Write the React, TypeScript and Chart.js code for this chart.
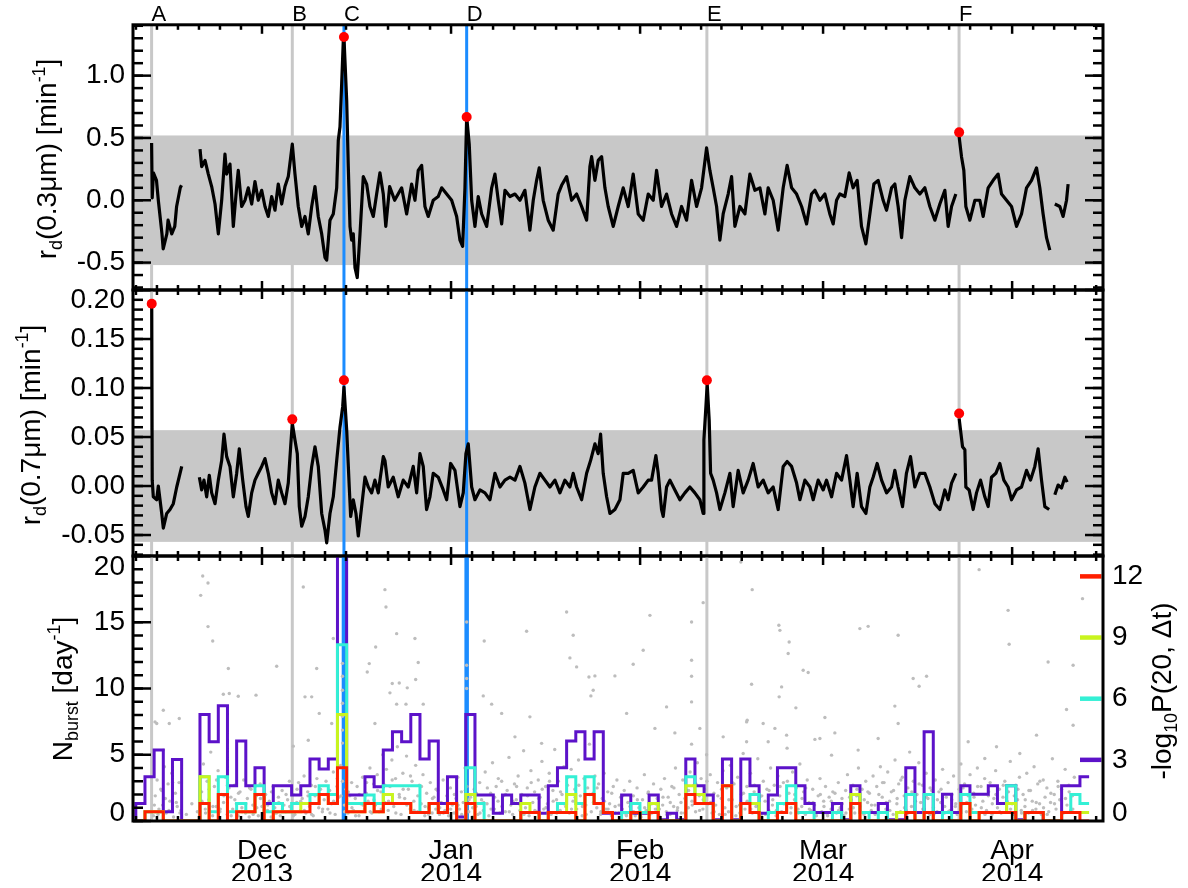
import React, { useEffect, useRef } from 'react';
import { Chart, registerables } from 'chart.js';

Chart.register(...registerables);

const FONT = "'Liberation Sans', Arial, Helvetica, sans-serif";
const BLACK = '#000000';
const GRAY_LINE = '#c8c8c8';
const BAND_COLOR = '#c8c8c8';
const BLUE = '#1b8cff';
const DOT_COLOR = '#bdbdbd';
const PEAK_COLOR = '#ff0000';
const C_PURPLE = '#5c12c9';
const C_CYAN = '#34f0d5';
const C_YELLOW = '#c9f41e';
const C_RED = '#ff1f00';

// x axis: days since 2013-12-01 (axis positions as on the original IDL plot)
const X_MIN = -21.15;
const X_MAX = 137.9;
const MONTH_TICKS = [0, 31, 62, 92, 123];
const MONTH_LABELS = [['Dec', '2013'], ['Jan', '2014'], ['Feb', '2014'], ['Mar', '2014'], ['Apr', '2014']];

const EVENT_LABELS = ['A', 'B', 'C', 'D', 'E', 'F'];
const EVENT_DAYS = [-18.1, 4.97, 13.44, 33.56, 72.95, 114.3];
const EVENT_BLUE = [false, false, true, true, false, false];

// ---------- panel 1 : r_d(0.3 um) ----------
const P1_MIN = -0.72;
const P1_MAX = 1.408;
const P1_TICKS = [-0.5, 0, 0.5, 1.0];
const P1_BAND = 0.52;
const PEAK03_DAYS = [13.44, 33.56, 114.31];
const PEAK03_VALS = [1.31, 0.668, 0.545];
const RD03: [number, number | null][] = [
  [-18.1, 0.46], [-18.0, 0.02], [-17.8, 0.22], [-17.3, 0.16], [-17.0, 0.0], [-16.4, -0.27], [-16.2, -0.39], [-15.6, -0.27], [-15.4, -0.16], [-14.8, -0.27], [-14.3, -0.21], [-14.0, -0.05], [-13.4, 0.1], [-13.2, 0.12],
  [-11.5, null],
  [-10.16, 0.41], [-9.89, 0.27], [-9.34, 0.32], [-8.8, 0.21], [-8.25, 0.11], [-7.7, -0.03], [-7.16, -0.27], [-6.61, 0], [-6.07, 0.37], [-5.79, 0.21], [-5.25, 0.29], [-4.7, -0.21], [-4.15, 0.11], [-3.89, 0.24], [-3.33, -0.05], [-2.79, 0], [-2.25, 0.1], [-1.69, -0.03], [-1.15, 0.15], [-0.61, 0], [-0.05, 0.08], [0.49, -0.05], [1.03, -0.13], [1.59, 0.03], [2.13, -0.08], [2.67, 0.13], [3.23, -0.03], [3.77, 0.11], [4.31, 0.19], [4.97, 0.45], [5.41, 0.21], [5.95, -0.05], [6.51, -0.21], [7.05, -0.13], [7.59, -0.27], [8.15, -0.05], [8.69, 0.11], [9.23, -0.13], [9.79, -0.27], [10.33, -0.46], [10.61, -0.48], [11.15, -0.16], [11.69, -0.11], [12.25, 0.1], [12.51, 0.48], [12.79, 0.59], [13.07, 0.94], [13.33, 1.28], [13.44, 1.31], [13.89, 0.8], [14.15, 0.27], [14.43, -0.21], [14.7, -0.32], [14.97, -0.27], [15.25, -0.54], [15.62, -0.62], [16.07, -0.27], [16.61, 0.19], [17.16, 0.13], [17.7, -0.05], [18.25, -0.13], [18.8, 0.05], [19.34, 0.22], [19.89, 0.05], [20.3, -0.21], [20.93, 0.11], [21.75, 0], [22.9, 0.1], [23.72, -0.11], [24.54, 0.13], [25.08, 0], [25.62, 0.24], [26.18, 0.28], [26.72, -0.05], [27.26, -0.13], [28.08, 0], [28.9, 0.03], [29.46, 0.1], [30.28, 0.05], [31.1, 0], [31.92, -0.13], [32.46, -0.32], [32.9, -0.37], [33.28, 0.1], [33.56, 0.67], [33.98, 0.45], [34.38, 0], [34.92, -0.21], [35.46, 0.03], [36.02, -0.11], [36.84, -0.21], [37.66, 0.1], [38.2, 0.21], [38.74, 0], [39.3, -0.19], [39.84, 0.08], [40.66, 0.03], [41.48, 0.05], [42.3, 0], [43.11, 0.08], [43.93, -0.24], [44.48, 0], [45.03, 0.16], [45.46, 0.26], [46.11, 0], [46.93, -0.16], [47.75, -0.24], [48.57, 0.05], [49.13, 0.12], [49.95, 0.19], [50.77, 0], [51.59, 0.05], [52.41, -0.05], [53.23, -0.16], [53.77, 0.27], [54.05, 0.35], [54.59, 0.16], [55.13, 0.32], [55.69, 0.35], [56.23, 0.1], [56.77, -0.05], [57.59, -0.21], [58.41, -0.05], [59.23, 0.1], [60.05, -0.05], [60.87, 0.21], [61.69, -0.11], [62.51, -0.16], [63.33, 0.05], [64.15, 0], [64.7, 0.24], [65.52, -0.05], [66.34, 0.05], [67.16, -0.11], [67.98, -0.21], [68.8, -0.05], [69.62, -0.16], [70.44, 0.16], [71.26, -0.05], [72.08, 0.1], [72.9, 0.42], [73.44, 0.24], [73.98, 0.1], [74.54, -0.05], [75.08, -0.32], [75.62, -0.11], [76.44, 0.05], [77.0, 0.19], [77.54, -0.21], [78.36, -0.05], [79.18, -0.11], [80.0, 0.21], [80.82, 0.08], [81.64, 0.1], [82.46, -0.11], [83.0, 0.1], [83.82, 0], [84.64, -0.24], [85.46, 0.1], [86.11, 0.28], [86.84, 0.1], [87.66, 0.05], [88.48, -0.05], [89.3, -0.19], [90.11, 0.05], [90.66, 0.08], [91.48, 0], [92.3, 0.05], [93.11, -0.11], [93.66, -0.19], [94.21, 0], [94.75, 0.05], [95.57, 0.03], [96.28, 0.22], [96.93, 0.1], [97.59, 0.16], [98.3, -0.21], [99.02, -0.35], [99.67, -0.11], [100.33, 0.13], [101.03, 0.16], [101.85, 0], [102.41, -0.08], [103.23, 0.1], [103.77, 0.13], [104.31, -0.05], [104.87, -0.3], [105.41, 0], [106.23, 0.19], [107.05, 0.1], [107.87, 0.05], [108.69, 0.1], [109.51, -0.05], [110.33, -0.16], [111.15, -0.03], [111.97, 0.08], [112.51, -0.21], [113.07, -0.05], [113.77, 0.05],
  [114.0, null],
  [114.31, 0.51], [114.7, 0.35], [115.08, 0.24], [115.41, -0.05], [116.07, -0.16], [116.89, 0], [117.7, 0], [118.25, -0.13], [119.07, 0.1], [119.89, 0.16], [120.7, 0.21], [121.26, 0.05], [122.08, 0], [122.9, -0.05], [123.72, -0.21], [124.54, -0.11], [125.36, 0.1], [126.18, 0.16], [127.0, 0.26], [127.54, 0.1], [128.08, -0.11], [128.64, -0.3], [129.18, -0.4],
  [129.6, null],
  [130.0, -0.03], [130.82, -0.05], [131.36, -0.13], [131.92, 0], [132.18, 0.13],
];

// ---------- panel 2 : r_d(0.7 um) ----------
const P2_MIN = -0.0714;
const P2_MAX = 0.2;
const P2_TICKS = [-0.05, 0, 0.05, 0.1, 0.15, 0.2];
const P2_BAND = 0.057;
const PEAK07_DAYS = [-18.08, 4.97, 13.44, 72.95, 114.31];
const PEAK07_VALS = [0.186, 0.068, 0.108, 0.108, 0.074];
const RD07: [number, number | null][] = [
  [-18.08, 0.183], [-18.0, 0.006], [-17.82, -0.011], [-17.26, -0.014], [-17.0, 0], [-16.44, -0.028], [-16.18, -0.043], [-15.62, -0.028], [-15.08, -0.024], [-14.54, -0.018], [-13.98, -0.001], [-13.16, 0.02],
  [-11.5, null],
  [-10.27, 0.009], [-9.89, -0.004], [-9.51, 0.006], [-9.07, -0.011], [-8.64, 0.011], [-8.25, -0.007], [-7.7, -0.018], [-7.16, 0.006], [-6.61, 0.026], [-6.23, 0.053], [-5.79, 0.03], [-5.25, 0.02], [-4.7, -0.011], [-4.15, 0.013], [-3.72, 0.038], [-3.16, 0.006], [-2.62, -0.021], [-2.25, -0.031], [-1.69, -0.007], [-1.15, 0.006], [-0.61, 0.013], [-0.05, 0.02], [0.49, 0.028], [1.03, 0.013], [1.59, -0.007], [2.13, -0.018], [2.67, 0.006], [3.23, -0.007], [3.77, -0.018], [4.31, 0.003], [4.7, 0.04], [4.97, 0.064], [5.41, 0.047], [5.79, 0.033], [6.12, -0.021], [6.51, -0.041], [7.05, -0.031], [7.59, -0.011], [8.15, 0.02], [8.69, 0.04], [9.23, 0.02], [9.79, -0.028], [10.33, -0.045], [10.61, -0.058], [11.15, -0.028], [11.69, -0.011], [12.25, 0.026], [12.79, 0.06], [13.23, 0.081], [13.44, 0.101], [13.89, 0.057], [14.31, -0.001], [14.54, -0.031], [14.97, -0.014], [15.41, -0.028], [15.79, -0.051], [16.34, -0.021], [16.89, 0.009], [17.43, -0.001], [17.98, -0.007], [18.52, 0.006], [19.07, -0.007], [19.34, 0.006], [19.89, 0.03], [20.16, 0.026], [20.7, -0.001], [21.52, 0.009], [22.34, -0.011], [23.16, 0.006], [23.98, -0.001], [24.8, 0.02], [25.36, -0.007], [25.9, 0.033], [26.44, 0.02], [26.99, -0.024], [27.54, -0.011], [28.08, 0.013], [28.9, 0.009], [29.72, -0.004], [30.28, -0.014], [30.93, 0.023], [31.64, 0.016], [32.46, -0.021], [33.0, -0.007], [33.44, 0.033], [33.82, 0.043], [34.38, -0.001], [34.92, -0.014], [35.74, -0.004], [36.56, -0.007], [37.38, -0.014], [38.2, 0.013], [39.02, -0.001], [39.84, 0.006], [40.66, 0.009], [41.48, 0.006], [42.3, 0.02], [43.11, 0.003], [43.93, -0.024], [44.75, -0.001], [45.57, 0.013], [46.39, 0.006], [47.21, -0.001], [48.03, 0.006], [48.85, -0.007], [49.67, 0.006], [50.49, -0.001], [51.03, 0.013], [51.59, -0.001], [52.41, -0.014], [53.23, 0.013], [53.88, 0.026], [54.59, 0.043], [55.13, 0.033], [55.52, 0.053], [55.95, 0.013], [56.51, -0.011], [57.05, -0.028], [57.87, -0.024], [58.69, -0.014], [59.23, 0.013], [60.05, 0.013], [60.87, 0.016], [61.69, -0.007], [62.51, -0.001], [63.33, 0.006], [63.88, 0.006], [64.59, 0.031], [64.97, 0.013], [65.52, -0.024], [65.79, -0.031], [66.34, -0.001], [66.89, 0.006], [67.7, -0.004], [68.52, -0.014], [69.34, -0.007], [70.16, -0.001], [70.98, -0.007], [71.8, -0.014], [72.34, -0.028], [72.46, 0.047], [72.79, 0.081], [73.0, 0.104], [73.33, 0.067], [73.56, 0.013], [73.98, 0.006], [74.54, -0.007], [75.08, -0.024], [75.9, -0.007], [76.72, 0.013], [77.26, -0.021], [78.08, 0.016], [78.9, -0.007], [79.72, 0.006], [80.54, 0.023], [81.36, -0.001], [82.18, 0.006], [83.0, -0.007], [83.82, -0.001], [84.64, -0.024], [85.46, 0.02], [86.11, 0.025], [86.84, 0.02], [87.66, 0.003], [88.2, -0.014], [89.02, 0.006], [89.84, -0.001], [90.38, -0.014], [91.2, 0.006], [92.02, -0.004], [92.57, 0.006], [93.39, -0.011], [94.21, 0.013], [95.03, 0.006], [95.85, 0.031], [96.39, 0.006], [96.93, -0.021], [97.59, 0.013], [98.3, -0.021], [99.02, -0.028], [99.67, -0.001], [100.21, 0.009], [100.87, 0.023], [101.59, 0.006], [102.41, -0.007], [103.23, -0.001], [103.77, 0.016], [104.31, -0.001], [105.03, -0.021], [105.67, 0.013], [106.34, 0.03], [107.05, -0.001], [107.87, 0.013], [108.69, 0.013], [109.51, -0.001], [110.33, -0.018], [111.15, -0.024], [111.97, -0.004], [112.51, -0.014], [113.07, 0.003], [113.77, 0.013],
  [114.0, null],
  [114.31, 0.069], [114.87, 0.04], [115.25, 0.037], [115.41, -0.001], [115.95, -0.004], [116.61, -0.024], [117.16, -0.007], [117.82, 0.006], [118.52, -0.011], [119.07, -0.021], [119.62, 0.009], [120.33, 0.013], [120.98, 0.023], [121.64, 0.006], [122.34, -0.001], [122.9, -0.014], [123.72, -0.004], [124.54, -0.001], [125.36, 0.016], [126.02, 0.006], [126.72, 0.02], [127.26, 0.038], [127.82, 0.006], [128.36, -0.021], [129.07, -0.024],
  [129.6, null],
  [130.0, -0.009], [130.54, 0.001], [131.1, -0.002], [131.64, 0.009], [132.02, 0.004],
];

// ---------- panel 3 : N_burst histograms ----------
const P3_MIN = 0;
const P3_MAX = 20;
const P3_TICKS = [0, 5, 10, 15, 20];
const PR_MIN = 0;
const PR_MAX = 13;
const PR_TICKS = [0, 3, 6, 9, 12];
const BIN_START = -20.69;
const BIN_WIDTH = 1.503;
const N_PURPLE = [
  1.33, 3.34, 5.35, 0.7, 4.65, 0, 0, 8.04, 5.98, 8.69,
  2.66, 6.03, 2.66, 4.02, 1.33, 2.66, 2.66, 1.96, 2.66, 4.67,
  3.92, 4.67, 24, 1.96, 1.96, 3.34, 2.59, 5.35, 6.73, 5.98,
  8.04, 4.67, 6.03, 1.33, 3.34, 0.3, 8.04, 1.96, 1.96, 0.58,
  1.96, 1.33, 1.96, 1.96, 0.58, 2.66, 4.02, 6.03, 6.73, 4.67,
  6.73, 0.58, 0.58, 1.96, 0.58, 0.58, 1.96, 0.1, 0.58, 0.1,
  4.67, 2.66, 1.96, 0.1, 4.67, 0.1, 4.67, 2.66, 0.58, 1.96,
  4.02, 4.02, 2.66, 1.33, 0.65, 0.65, 1.33, 0.1, 2.66, 0.65,
  0.65, 1.33, 0.1, 0.1, 4.02, 0.65, 6.73, 0.65, 2.01, 0.65,
  2.66, 2.01, 2.01, 2.66, 1.33, 2.66, 0.1, 0.65, 0.65, 0,
  0, 2.66, 2.66, 3.34,
];
const N_CYAN = [
  0, 0.7, 0.7, 0, 0, 0, 0, 3.34, 0.7, 3.34,
  0.7, 1.33, 0.7, 2.66, 0.7, 1.33, 0.7, 1.33, 1.33, 2.0,
  2.66, 2.0, 13.3, 1.33, 1.33, 1.96, 1.33, 2.66, 2.66, 2.66,
  2.66, 0.65, 1.33, 0.65, 1.33, 0, 4.02, 1.33, 0, 0,
  0, 0, 0.65, 0.65, 0, 0.65, 1.33, 3.34, 1.33, 3.34,
  1.33, 0.65, 0, 0.65, 1.33, 0.65, 1.33, 0, 0, 0,
  3.34, 2.0, 1.33, 0, 2.66, 0, 1.33, 2.0, 0, 0.65,
  1.33, 2.66, 0.65, 0.65, 0, 0, 0.65, 0, 2.0, 0.65,
  0, 0.65, 0, 0.65, 2.0, 0, 2.0, 0, 0.65, 0,
  2.0, 0.65, 0.65, 0.65, 0.65, 2.66, 0, 0.65, 0.65, 0,
  0, 0.65, 2.0, 1.33,
];
const N_YELLOW = [
  0, 0.7, 0.7, 0, 0, 0, 0, 3.34, 0, 2.0,
  0, 0.7, 0.7, 2.0, 0, 0.7, 0.7, 0.7, 1.33, 1.33,
  2.0, 1.33, 8.04, 0.7, 0.7, 1.33, 0.7, 2.0, 1.33, 1.33,
  0.65, 0.65, 1.33, 0.65, 1.33, 0, 2.0, 0, 0, 0,
  0, 0, 1.33, 0.65, 0, 0.65, 0.65, 2.0, 0, 2.0,
  1.33, 0.65, 0, 0, 0.65, 0, 1.33, 0, 0, 0,
  2.66, 2.0, 1.33, 0, 2.66, 0, 1.33, 1.33, 0, 0,
  0.65, 1.33, 0, 0, 0, 0, 0, 0, 2.0, 0,
  0, 0, 0, 0.65, 0.65, 0, 0.65, 0, 0, 0,
  1.33, 0, 0.65, 0.65, 0.65, 1.33, 0, 0.65, 0.65, 0,
  0, 0.65, 0.65, 0.65,
];
const N_RED = [
  0, 0.7, 0.7, 0, 0, 0, 0, 1.33, 0, 2.0,
  0, 0.7, 0.7, 2.0, 0, 0.7, 0.7, 0.7, 0.7, 1.33,
  2.0, 1.33, 4.02, 0.7, 0.7, 1.33, 0.7, 1.33, 1.33, 1.33,
  0.65, 0.65, 1.33, 0.65, 1.33, 0, 1.33, 0, 0, 0,
  0, 0, 0.65, 0.65, 0, 0.65, 0.65, 0.65, 0, 2.0,
  1.33, 0.65, 0, 0, 0.65, 0, 0.65, 0, 0, 0,
  2.0, 1.33, 1.33, 0, 2.66, 0, 1.33, 0.65, 0, 0,
  0.65, 1.33, 0, 0, 0, 0, 0, 0, 1.33, 0,
  0, 0, 0, 0, 0.65, 0, 0.65, 0, 0, 0,
  1.33, 0, 0.65, 0.65, 0.65, 0.65, 0, 0.65, 0.65, 0,
  0, 0.65, 0.65, 0,
];
const COLOR_BAR_VALUES = [3, 6, 9, 12];
const COLOR_BAR_COLORS = [C_PURPLE, C_CYAN, C_YELLOW, C_RED];

// individual bursts (gray dots): sparse upper dots
const DOTS_HIGH: [number, number][] = [
  [-9.72, 18.49], [-8.85, 17.96], [-10.05, 17.03], [-8.85, 14.67], [-8.08, 13.59], [-5.52, 11.51], [2.41, 11.68], [-0.98, 9.5], [-3.89, 9.42], [8.97, 11.51], [7.05, 9.37], [11.69, 13.77], [6.77, 17.66], [-16.18, 8.36], [-13.56, 7.74], [-17.26, 7.36], [-15.2, 7.36], [9.39, 8.12], [11.43, 7.36], [7.59, 6.1], [5.13, 5.65], [-17.54, 7.48], [-16.18, 5.35], [-6.34, 9.57], [-5.36, 9.62], [8.15, 9.37], [17.59, 11.88], [22.08, 14.14], [20.16, 17.46], [20.33, 16.15],
  [25.08, 13.77], [18.64, 13.13], [25.62, 11.96], [17.26, 11.25], [43.39, 14.32], [36.44, 13.59], [49.95, 15.77], [51.03, 14.02], [50.49, 12.31], [51.59, 11.63], [53.61, 10.87], [54.59, 10.95], [53.93, 9.44], [36.28, 9.44], [37.66, 8.82], [33.56, 15.02], [33.56, 11.76], [33.56, 10.75], [33.56, 10.0], [25.2, 10.68], [23.82, 10.05], [21.36, 10.38], [22.51, 10.42], [20.98, 9.67], [22.08, 8.82], [23.61, 8.82], [26.44, 8.82], [18.52, 7.36], [39.3, 8.12], [41.48, 6.35], [43.93, 7.86], [45.85, 5.86], [57.87, 10.95], [60.87, 11.83], [62.51, 12.89], [63.61, 15.52], [70.44, 15.02], [72.34, 16.48], [70.44, 12.13], [70.44, 10.93], [70.44, 8.99], [70.44, 5.8], [78.52, 19.54], [80.38, 17.46], [84.75, 14.77], [86.28, 12.64], [86.44, 13.51], [79.46, 7.48], [85.2, 10.12], [54.31, 9.87], [59.79, 8.12], [67.7, 6.65], [66.34, 8.61], [75.62, 6.35], [82.18, 7.36], [64.43, 6.99], [71.8, 6.99], [80.28, 10.32], [88.74, 11.38], [89.56, 11.21], [84.8, 9.37], [87.54, 8.54], [92.3, 7.81], [79.56, 7.61], [79.46, 5.98], [83.0, 5.98], [84.1, 6.99], [93.93, 6.65], [98.03, 14.52], [90.66, 6.16],
  [84.92, 14.39], [99.39, 14.69], [104.31, 14.02], [106.77, 10.75], [108.97, 10.93], [107.75, 10.17], [117.59, 18.97], [122.34, 15.9], [122.51, 13.34], [128.9, 12.0], [133.0, 11.76], [134.54, 16.78], [131.92, 8.42], [133.0, 7.23], [104.31, 7.36], [101.03, 6.23], [97.75, 5.35], [115.79, 5.98], [120.44, 5.6], [118.52, 4.72], [124.26, 5.1], [127.0, 6.48], [93.39, 4.97], [91.48, 6.23], [86.02, 6.48], [103.77, 8.67],
  [13.2, 11.9], [13.2, 10.93], [13.2, 9.87], [13.2, 8.89], [13.2, 7.91], [13.2, 6.86], [13.2, 5.88],
];
// individual bursts: dense lower cloud
const DOTS_LOW: [number, number][] = [
  [-17.8, 0.4], [-17.5, 1.9], [-17.2, 3.1], [-16.9, 0.9], [-16.6, 2.4], [-16.3, 1.2], [-16.0, 4.1], [-15.7, 0.6], [-15.4, 2.8], [-15.1, 1.5], [-14.8, 3.6], [-14.5, 0.3], [-14.2, 2.1], [-13.9, 1.1], [-13.6, 2.9], [-13.3, 0.8],
  [-12.4, 0.5], [-11.5, 1.3], [-10.6, 0.7],
  [-9.9, 2.2], [-9.6, 4.3], [-9.3, 0.9], [-9.0, 3.0], [-8.7, 1.6], [-8.4, 5.2], [-8.1, 0.4], [-7.8, 2.6], [-7.5, 1.1], [-7.2, 3.8], [-6.9, 0.7], [-6.6, 2.0], [-6.3, 1.4], [-6.0, 3.3], [-5.7, 0.5], [-5.4, 2.5], [-5.1, 1.8],
  [-4.8, 0.9], [-4.5, 2.7], [-4.2, 1.3], [-3.9, 0.4], [-3.6, 2.2], [-3.3, 1.0], [-3.0, 3.1], [-2.7, 0.6], [-2.4, 1.7], [-2.1, 0.3], [-1.8, 2.4], [-1.5, 1.2], [-1.2, 0.7], [-0.9, 1.9], [-0.6, 0.4], [-0.3, 2.8],
  [0.0, 1.1], [0.3, 0.5], [0.6, 2.0], [0.9, 0.8], [1.2, 1.5], [1.5, 0.3], [1.8, 2.6], [2.1, 1.0], [2.4, 0.6], [2.7, 1.8], [3.0, 0.4], [3.3, 2.3], [3.6, 1.2], [3.9, 0.7], [4.2, 1.6], [4.5, 3.0], [4.8, 0.9],
  [5.1, 2.0], [5.4, 0.5], [5.7, 1.4], [6.0, 2.9], [6.3, 0.8], [6.6, 1.7], [6.9, 3.4], [7.2, 0.6], [7.5, 2.2], [7.8, 1.1], [8.1, 2.7], [8.4, 0.4], [8.7, 1.9], [9.0, 3.2], [9.3, 1.0], [9.6, 2.4], [9.9, 0.7],
  [10.2, 1.6], [10.5, 3.0], [10.8, 0.9], [11.1, 2.3], [11.4, 1.3], [11.7, 3.7], [12.0, 0.5], [12.3, 2.6], [12.6, 1.8], [12.9, 4.2], [13.2, 3.0], [13.5, 1.2], [13.8, 2.4], [14.1, 0.6], [14.4, 1.9], [14.7, 2.9],
  [15.0, 0.8], [15.3, 1.7], [15.6, 2.6], [15.9, 0.4], [16.2, 1.3], [16.5, 3.3], [16.8, 0.9], [17.1, 2.1], [17.4, 1.5], [17.7, 4.0], [18.0, 0.6], [18.3, 2.8], [18.6, 1.2], [18.9, 3.5], [19.2, 0.7], [19.5, 2.2], [19.8, 5.0],
  [20.1, 1.4], [20.4, 3.9], [20.7, 0.8], [21.0, 2.6], [21.3, 4.6], [21.6, 1.1], [21.9, 3.2], [22.2, 5.6], [22.5, 2.0], [22.8, 0.5], [23.1, 3.6], [23.4, 1.7], [23.7, 4.9], [24.0, 2.4], [24.3, 0.9], [24.6, 3.0], [24.9, 1.5],
  [25.2, 4.2], [25.5, 0.7], [25.8, 2.7], [26.1, 1.3], [26.4, 3.5], [26.7, 0.4], [27.0, 2.1], [27.3, 1.0], [27.6, 2.9], [27.9, 0.6], [28.2, 1.8], [28.5, 0.9], [28.8, 2.3], [29.1, 0.5], [29.4, 1.4], [29.7, 3.1],
  [30.0, 0.8], [30.3, 1.9], [30.6, 0.4], [30.9, 2.5], [31.2, 1.2], [31.5, 0.6], [31.8, 1.7], [32.1, 3.3], [32.4, 0.9], [32.7, 2.2], [33.0, 1.4], [33.3, 4.0], [33.6, 2.6], [33.9, 0.7], [34.2, 1.8], [34.5, 0.3], [34.8, 2.4],
  [35.1, 1.1], [35.4, 0.5], [35.7, 2.9], [36.0, 1.6], [36.3, 0.8], [36.6, 3.7], [36.9, 1.3], [37.2, 0.4], [37.5, 2.1], [37.8, 4.4], [38.1, 0.9], [38.4, 2.6], [38.7, 1.5], [39.0, 0.6], [39.3, 3.0], [39.6, 1.9], [39.9, 0.7],
  [40.2, 2.3], [40.5, 4.8], [40.8, 1.2], [41.1, 0.5], [41.4, 2.8], [41.7, 1.6], [42.0, 3.4], [42.3, 0.8], [42.6, 2.0], [42.9, 5.3], [43.2, 1.0], [43.5, 2.5], [43.8, 0.4], [44.1, 3.8], [44.4, 1.4], [44.7, 2.2],
  [45.0, 0.7], [45.3, 3.1], [45.6, 1.8], [45.9, 4.5], [46.2, 0.9], [46.5, 2.6], [46.8, 1.3], [47.1, 3.6], [47.4, 0.5], [47.7, 2.3], [48.0, 5.4], [48.3, 1.6], [48.6, 3.0], [48.9, 0.8], [49.2, 2.0], [49.5, 4.1], [49.8, 1.1],
  [50.1, 2.7], [50.4, 0.6], [50.7, 3.9], [51.0, 1.5], [51.3, 2.4], [51.6, 0.9], [51.9, 4.6], [52.2, 1.9], [52.5, 0.4], [52.8, 3.2], [53.1, 1.2], [53.4, 2.5], [53.7, 5.8], [54.0, 0.7], [54.3, 2.1], [54.6, 3.4], [54.9, 1.0],
  [55.2, 2.8], [55.5, 0.5], [55.8, 1.7], [56.1, 3.6], [56.4, 0.9], [56.7, 2.2], [57.0, 1.3], [57.3, 0.4], [57.6, 2.6], [57.9, 1.1], [58.2, 3.1], [58.5, 0.6], [58.8, 1.8], [59.1, 0.9], [59.4, 2.3], [59.7, 0.5],
  [60.0, 1.4], [60.3, 3.0], [60.6, 0.7], [60.9, 1.9], [61.2, 0.4], [61.5, 2.5], [61.8, 1.0], [62.1, 0.6], [62.4, 1.6], [62.7, 3.5], [63.0, 0.8], [63.3, 2.1], [63.6, 0.5], [63.9, 1.3], [64.2, 2.8], [64.5, 0.9], [64.8, 1.7],
  [65.1, 0.4], [65.4, 2.4], [65.7, 1.2], [66.0, 3.2], [66.3, 0.7], [66.6, 1.8], [66.9, 0.5], [67.2, 2.6], [67.5, 1.1], [67.8, 4.0], [68.1, 0.8], [68.4, 2.0], [68.7, 1.4], [69.0, 3.1], [69.3, 0.6], [69.6, 2.3], [69.9, 1.0],
  [70.2, 3.7], [70.5, 1.5], [70.8, 2.7], [71.1, 0.7], [71.4, 4.4], [71.7, 1.9], [72.0, 3.2], [72.3, 0.9], [72.6, 2.4], [72.9, 5.0], [73.2, 1.3], [73.5, 3.5], [73.8, 0.6], [74.1, 2.1], [74.4, 1.2], [74.7, 2.9],
  [75.0, 0.5], [75.3, 1.7], [75.6, 3.8], [75.9, 1.0], [76.2, 2.5], [76.5, 0.7], [76.8, 4.2], [77.1, 1.6], [77.4, 2.8], [77.7, 0.4], [78.0, 3.3], [78.3, 1.2], [78.6, 2.0], [78.9, 5.1], [79.2, 0.9], [79.5, 2.6], [79.8, 1.4],
  [80.1, 3.6], [80.4, 0.6], [80.7, 2.2], [81.0, 1.1], [81.3, 4.7], [81.6, 1.8], [81.9, 0.5], [82.2, 3.0], [82.5, 1.5], [82.8, 2.4], [83.1, 0.8], [83.4, 4.0], [83.7, 1.2], [84.0, 2.7], [84.3, 0.4], [84.6, 3.4], [84.9, 1.9],
  [85.2, 0.7], [85.5, 2.9], [85.8, 1.3], [86.1, 5.5], [86.4, 2.1], [86.7, 0.6], [87.0, 3.7], [87.3, 1.6], [87.6, 2.5], [87.9, 0.9], [88.2, 4.3], [88.5, 1.1], [88.8, 2.2], [89.1, 0.5], [89.4, 3.1], [89.7, 1.4],
  [90.0, 0.8], [90.3, 2.4], [90.6, 1.2], [90.9, 0.4], [91.2, 1.9], [91.5, 3.2], [91.8, 0.7], [92.1, 1.5], [92.4, 2.6], [92.7, 0.5], [93.0, 1.8], [93.3, 0.9], [93.6, 2.2], [93.9, 1.3], [94.2, 0.6], [94.5, 2.9], [94.8, 1.0],
  [95.1, 1.7], [95.4, 0.4], [95.7, 2.3], [96.0, 3.5], [96.3, 0.9], [96.6, 1.6], [96.9, 2.7], [97.2, 0.6], [97.5, 1.9], [97.8, 4.0], [98.1, 1.1], [98.4, 2.4], [98.7, 0.5], [99.0, 3.0], [99.3, 1.4], [99.6, 2.1], [99.9, 0.8],
  [100.2, 3.4], [100.5, 1.2], [100.8, 2.6], [101.1, 0.6], [101.4, 4.1], [101.7, 1.8], [102.0, 2.9], [102.3, 0.9], [102.6, 3.7], [102.9, 1.5], [103.2, 2.2], [103.5, 0.5], [103.8, 4.6], [104.1, 1.3], [104.4, 2.8], [104.7, 0.7],
  [105.0, 3.3], [105.3, 1.9], [105.6, 0.8], [105.9, 2.5], [106.2, 5.2], [106.5, 1.1], [106.8, 3.0], [107.1, 0.6], [107.4, 2.0], [107.7, 4.4], [108.0, 1.4], [108.3, 2.7], [108.6, 0.9], [108.9, 3.6], [109.2, 1.7], [109.5, 0.5], [109.8, 2.3],
  [110.1, 1.0], [110.4, 3.1], [110.7, 0.7], [111.0, 2.2], [111.3, 1.4], [111.6, 3.9], [111.9, 0.6], [112.2, 1.8], [112.5, 2.9], [112.8, 0.8], [113.1, 1.6], [113.4, 3.4], [113.7, 1.1], [114.0, 0.5], [114.3, 2.4], [114.6, 4.3],
  [114.9, 1.3], [115.2, 2.8], [115.5, 0.7], [115.8, 1.9], [116.1, 3.5], [116.4, 0.9], [116.7, 2.1], [117.0, 1.2], [117.3, 4.0], [117.6, 0.6], [117.9, 2.6], [118.2, 1.5], [118.5, 3.2], [118.8, 0.8], [119.1, 1.9], [119.4, 2.9], [119.7, 0.5],
  [120.0, 1.7], [120.3, 3.8], [120.6, 1.0], [120.9, 2.4], [121.2, 0.6], [121.5, 1.8], [121.8, 3.0], [122.1, 0.9], [122.4, 2.2], [122.7, 4.5], [123.0, 1.3], [123.3, 0.5], [123.6, 2.7], [123.9, 1.6], [124.2, 3.3], [124.5, 0.8], [124.8, 2.0],
  [125.1, 1.1], [125.4, 3.6], [125.7, 0.6], [126.0, 2.3], [126.3, 1.5], [126.6, 4.1], [126.9, 0.9], [127.2, 2.8], [127.5, 1.3], [127.8, 0.5], [128.1, 3.1], [128.4, 1.8], [128.7, 2.5], [129.0, 0.7], [129.3, 1.4], [129.6, 4.7], [129.9, 2.0],
  [130.2, 0.9], [130.5, 3.0], [130.8, 1.6], [131.1, 2.4], [131.4, 0.6], [131.7, 3.9], [132.0, 1.2], [132.3, 2.7], [132.6, 0.8], [132.9, 1.9], [133.2, 3.3],
];
// second layer of the dense lower cloud
const DOTS_LOW2: [number, number][] = [
  [-17.65, 1.2], [-17.05, 0.5], [-16.45, 2.3], [-15.85, 1.7], [-15.25, 0.8], [-14.65, 2.9], [-14.05, 1.4], [-13.45, 0.6],
  [-9.85, 1.5], [-9.25, 0.6], [-8.65, 2.4], [-8.05, 1.1], [-7.45, 3.1], [-6.85, 0.9], [-6.25, 1.9], [-5.65, 2.7], [-5.05, 0.4], [-4.45, 1.6],
  [-3.85, 2.1], [-3.25, 0.7], [-2.65, 1.3], [-2.05, 2.5], [-1.45, 0.5], [-0.85, 1.0], [-0.25, 1.7], [0.35, 0.3], [0.95, 1.2], [1.55, 2.2],
  [2.15, 0.6], [2.75, 1.4], [3.35, 0.9], [3.95, 2.0], [4.55, 1.1], [5.15, 0.4], [5.75, 2.4], [6.35, 1.5], [6.95, 0.8], [7.55, 1.9],
  [8.15, 0.5], [8.75, 2.6], [9.35, 1.3], [9.95, 0.9], [10.55, 2.0], [11.15, 0.6], [11.75, 1.5], [12.35, 3.2], [12.95, 1.9], [13.55, 0.7],
  [14.15, 2.2], [14.75, 1.0], [15.35, 0.4], [15.95, 2.0], [16.55, 1.2], [17.15, 2.9], [17.75, 0.7], [18.35, 1.6], [18.95, 2.3], [19.55, 0.9],
  [20.15, 2.7], [20.75, 1.5], [21.35, 3.1], [21.95, 0.6], [22.55, 1.8], [23.15, 2.4], [23.75, 1.2], [24.35, 3.4], [24.95, 0.8], [25.55, 1.9],
  [26.15, 2.6], [26.75, 1.1], [27.35, 0.5], [27.95, 1.7], [28.55, 2.4], [29.15, 1.0], [29.75, 0.6], [30.35, 1.4], [30.95, 0.9], [31.55, 2.0],
  [32.15, 1.2], [32.75, 0.5], [33.35, 2.3], [33.95, 1.6], [34.55, 1.0], [35.15, 2.1], [35.75, 0.6], [36.35, 1.4], [36.95, 2.5], [37.55, 0.9],
  [38.15, 1.8], [38.75, 3.2], [39.35, 1.1], [39.95, 2.0], [40.55, 0.7], [41.15, 1.5], [41.75, 2.6], [42.35, 1.2], [42.95, 0.5], [43.55, 1.9],
  [44.15, 2.9], [44.75, 0.8], [45.35, 1.7], [45.95, 2.4], [46.55, 1.0], [47.15, 3.0], [47.75, 1.5], [48.35, 0.6], [48.95, 2.2], [49.55, 1.3],
  [50.15, 3.3], [50.75, 0.9], [51.35, 1.8], [51.95, 2.7], [52.55, 1.1], [53.15, 0.5], [53.75, 2.0], [54.35, 1.4], [54.95, 2.5], [55.55, 0.7],
  [56.15, 1.5], [56.75, 0.9], [57.35, 2.1], [57.95, 0.6], [58.55, 1.2], [59.15, 1.9], [59.75, 0.4], [60.35, 1.1], [60.95, 0.7], [61.55, 1.6],
  [62.15, 0.3], [62.75, 1.0], [63.35, 2.2], [63.95, 0.6], [64.55, 1.3], [65.15, 0.9], [65.75, 1.8], [66.35, 0.5], [66.95, 1.4], [67.55, 2.5],
  [68.15, 1.0], [68.75, 0.6], [69.35, 1.7], [69.95, 2.3], [70.55, 1.2], [71.15, 2.8], [71.75, 0.8], [72.35, 1.6], [72.95, 3.0], [73.55, 1.4],
  [74.15, 0.7], [74.75, 1.9], [75.35, 2.4], [75.95, 0.5], [76.55, 1.6], [77.15, 2.9], [77.75, 1.1], [78.35, 0.6], [78.95, 2.1], [79.55, 1.5],
  [80.15, 0.9], [80.75, 2.7], [81.35, 1.2], [81.95, 1.9], [82.55, 0.5], [83.15, 2.3], [83.75, 1.6], [84.35, 0.8], [84.95, 2.6], [85.55, 1.3],
  [86.15, 3.0], [86.75, 1.0], [87.35, 2.0], [87.95, 0.6], [88.55, 1.7], [89.15, 2.5], [89.75, 0.9], [90.35, 1.4], [90.95, 0.6], [91.55, 2.0],
  [92.15, 1.1], [92.75, 0.4], [93.35, 1.5], [93.95, 2.1], [94.55, 0.8], [95.15, 1.3], [95.75, 0.6], [96.35, 1.8], [96.95, 1.0], [97.55, 2.4],
  [98.15, 0.7], [98.75, 1.6], [99.35, 2.2], [99.95, 1.2], [100.55, 0.5], [101.15, 2.0], [101.75, 2.9], [102.35, 1.4], [102.95, 0.8], [103.55, 2.3],
  [104.15, 1.7], [104.75, 3.1], [105.35, 1.0], [105.95, 0.6], [106.55, 2.2], [107.15, 1.5], [107.75, 2.8], [108.35, 0.9], [108.95, 1.8], [109.55, 2.5],
  [110.15, 0.5], [110.75, 1.6], [111.35, 2.4], [111.95, 1.1], [112.55, 0.7], [113.15, 2.0], [113.75, 1.3], [114.35, 0.6], [114.95, 2.5], [115.55, 1.4],
  [116.15, 0.9], [116.75, 1.8], [117.35, 2.6], [117.95, 1.0], [118.55, 0.5], [119.15, 2.2], [119.75, 1.3], [120.35, 2.0], [120.95, 0.7], [121.55, 2.7],
  [122.15, 1.5], [122.75, 0.9], [123.35, 1.9], [123.95, 2.4], [124.55, 0.6], [125.15, 1.6], [125.75, 2.3], [126.35, 0.8], [126.95, 1.4], [127.55, 3.0],
  [128.15, 1.0], [128.75, 0.5], [129.35, 2.1], [129.95, 1.3], [130.55, 2.6], [131.15, 0.7], [131.75, 1.7], [132.35, 2.2], [132.95, 0.9],
];

type Part = { t: string; k?: 'sub' | 'sup' };
const TITLE_P1: Part[] = [{ t: 'r' }, { t: 'd', k: 'sub' }, { t: '(0.3μm) [min' }, { t: '-1', k: 'sup' }, { t: ']' }];
const TITLE_P2: Part[] = [{ t: 'r' }, { t: 'd', k: 'sub' }, { t: '(0.7μm) [min' }, { t: '-1', k: 'sup' }, { t: ']' }];
const TITLE_P3: Part[] = [{ t: 'N' }, { t: 'burst', k: 'sub' }, { t: ' [day' }, { t: '-1', k: 'sup' }, { t: ']' }];
const TITLE_R: Part[] = [{ t: '-log' }, { t: '10', k: 'sub' }, { t: 'P(20, Δt)' }];

function drawRich(ctx: CanvasRenderingContext2D, parts: Part[], cx: number, cy: number, size: number) {
  const small = size * 0.64;
  ctx.save();
  ctx.translate(cx, cy);
  ctx.rotate(-Math.PI / 2);
  const widths = parts.map((p) => {
    ctx.font = `${p.k ? small : size}px ${FONT}`;
    return ctx.measureText(p.t).width;
  });
  const total = widths.reduce((a, b) => a + b, 0);
  let x = -total / 2;
  const base = size * 0.35;
  ctx.fillStyle = BLACK;
  ctx.textBaseline = 'alphabetic';
  ctx.textAlign = 'left';
  parts.forEach((p, i) => {
    ctx.font = `${p.k ? small : size}px ${FONT}`;
    const dy = p.k === 'sub' ? size * 0.22 : p.k === 'sup' ? -size * 0.42 : 0;
    ctx.fillText(p.t, x, base + dy);
    x += widths[i];
  });
  ctx.restore();
}

function xMinorValues(): number[] {
  const res: number[] = [];
  for (let i = 0; i < MONTH_TICKS.length - 1; i++) {
    const a = MONTH_TICKS[i], b = MONTH_TICKS[i + 1];
    for (let k = 1; k < 9; k++) res.push(a + ((b - a) * k) / 9);
  }
  const s0 = (MONTH_TICKS[1] - MONTH_TICKS[0]) / 9;
  for (let v = MONTH_TICKS[0] - s0; v > X_MIN; v -= s0) res.push(v);
  const n = MONTH_TICKS.length;
  const s1 = (MONTH_TICKS[n - 1] - MONTH_TICKS[n - 2]) / 9;
  for (let v = MONTH_TICKS[n - 1] + s1; v < X_MAX; v += s1) res.push(v);
  return res;
}

type PanelCfg = {
  band?: number;
  yMajor: number[];
  yMinorStep: number;
  yMin: number;
  yMax: number;
  mirrorY: boolean;
  blueWidth: number;
  eventLabels: boolean;
  title: Part[];
  titleX: number;
  titleY: number;
  right?: { parts: Part[]; x: number; y: number };
  colorBars?: boolean;
};

function panelPlugin(cfg: PanelCfg) {
  return {
    id: 'panelDecor',
    beforeDatasetsDraw(chart: any) {
      const { ctx, chartArea: a, scales } = chart;
      const xs = scales.x, ys = scales.y;
      ctx.save();
      if (cfg.band != null) {
        const t = ys.getPixelForValue(cfg.band);
        const b = ys.getPixelForValue(-cfg.band);
        ctx.fillStyle = BAND_COLOR;
        ctx.fillRect(a.left, t, a.right - a.left, b - t);
      }
      EVENT_DAYS.forEach((d, i) => {
        const px = xs.getPixelForValue(d);
        ctx.strokeStyle = EVENT_BLUE[i] ? BLUE : GRAY_LINE;
        ctx.lineWidth = EVENT_BLUE[i] ? cfg.blueWidth : 3;
        ctx.beginPath();
        ctx.moveTo(px, a.top);
        ctx.lineTo(px, a.bottom);
        ctx.stroke();
      });
      ctx.restore();
    },
    afterDatasetsDraw(chart: any) {
      const { ctx, chartArea: a, scales } = chart;
      const xs = scales.x, ys = scales.y;
      ctx.save();
      const seg = (x1: number, y1: number, x2: number, y2: number) => {
        ctx.beginPath();
        ctx.moveTo(x1, y1);
        ctx.lineTo(x2, y2);
        ctx.stroke();
      };
      ctx.strokeStyle = BLACK;
      ctx.lineCap = 'butt';
      ctx.lineWidth = 2.5;
      xMinorValues().forEach((v) => {
        const p = xs.getPixelForValue(v);
        seg(p, a.top, p, a.top + 5);
        seg(p, a.bottom, p, a.bottom - 5);
      });
      MONTH_TICKS.forEach((v) => {
        const p = xs.getPixelForValue(v);
        seg(p, a.top, p, a.top + 9);
        seg(p, a.bottom, p, a.bottom - 9);
      });
      const i0 = Math.ceil(cfg.yMin / cfg.yMinorStep - 1e-6);
      const i1 = Math.floor(cfg.yMax / cfg.yMinorStep + 1e-6);
      for (let i = i0; i <= i1; i++) {
        const p = ys.getPixelForValue(i * cfg.yMinorStep);
        seg(a.left, p, a.left + 10, p);
        if (cfg.mirrorY) seg(a.right, p, a.right - 10, p);
      }
      cfg.yMajor.forEach((v) => {
        const p = ys.getPixelForValue(v);
        seg(a.left, p, a.left + 18, p);
        if (cfg.mirrorY) seg(a.right, p, a.right - 18, p);
      });
      if (cfg.colorBars && scales.yR) {
        ctx.lineWidth = 4.5;
        COLOR_BAR_VALUES.forEach((v, i) => {
          const p = scales.yR.getPixelForValue(v);
          ctx.strokeStyle = COLOR_BAR_COLORS[i];
          seg(a.right - 23, p, a.right - 1.5, p);
        });
      }
      ctx.strokeStyle = BLACK;
      ctx.lineWidth = 3;
      ctx.strokeRect(a.left, a.top, a.right - a.left, a.bottom - a.top);
      ctx.restore();
    },
    afterDraw(chart: any) {
      const { ctx, scales } = chart;
      ctx.save();
      if (cfg.eventLabels) {
        ctx.font = `22px ${FONT}`;
        ctx.fillStyle = BLACK;
        ctx.textAlign = 'left';
        ctx.textBaseline = 'middle';
        EVENT_DAYS.forEach((d, i) => {
          ctx.fillText(EVENT_LABELS[i], scales.x.getPixelForValue(d), 14.5);
        });
      }
      drawRich(ctx, cfg.title, cfg.titleX, cfg.titleY, 28);
      if (cfg.right) drawRich(ctx, cfg.right.parts, cfg.right.x, cfg.right.y, 28);
      ctx.restore();
    },
  };
}

// shiftMax / shiftMin: pixels by which the end labels are pushed inside the frame (as IDL does)
function yScale(min: number, max: number, ticks: number[], fmt: (v: number) => string, position = 'left', width = 133, pad = 8, shiftMax = 0, shiftMin = 0) {
  const isMax = (v: number) => shiftMax > 0 && Math.abs(v - max) < 1e-9;
  const isMin = (v: number) => shiftMin > 0 && Math.abs(v - min) < 1e-9;
  return {
    type: 'linear',
    position,
    min,
    max,
    afterBuildTicks: (s: any) => {
      s.ticks = ticks.map((v) => ({ value: v }));
    },
    afterFit: (s: any) => {
      s.width = width;
    },
    grid: { display: false, drawTicks: false },
    border: { display: false },
    ticks: {
      color: BLACK,
      padding: pad,
      font: (c: any) => {
        const v = c && c.tick ? c.tick.value : NaN;
        let lh = 1.2;
        if (isMax(v)) lh = (2 * shiftMax) / 28;
        else if (isMin(v)) lh = (2 * shiftMin) / 28;
        return { family: FONT, size: 28, lineHeight: lh };
      },
      callback: (v: any) => {
        const n = Number(v);
        const s = fmt(n);
        if (isMax(n)) return ['', s];
        if (isMin(n)) return [s, ''];
        return s;
      },
    },
  };
}

const X_HIDDEN = { type: 'linear', min: X_MIN, max: X_MAX, display: false };

const BASE_OPTS = {
  animation: false,
  responsive: false,
  events: [],
  plugins: { legend: { display: false }, tooltip: { enabled: false } },
};

function linePanelConfig(series: [number, number | null][], peaksX: number[], peaksY: number[], yAxis: any, cfg: PanelCfg, pad: any) {
  return {
    type: 'line',
    data: {
      datasets: [
        {
          data: peaksX.map((d, i) => ({ x: d, y: peaksY[i] })),
          showLine: false,
          pointRadius: 5,
          pointBackgroundColor: PEAK_COLOR,
          pointBorderWidth: 0,
        },
        {
          data: series.map(([x, y]) => ({ x, y })),
          borderColor: BLACK,
          borderWidth: 3.2,
          pointRadius: 0,
          spanGaps: false,
          tension: 0,
          borderJoinStyle: 'round',
        },
      ],
    },
    options: {
      ...BASE_OPTS,
      layout: { padding: pad },
      scales: { x: X_HIDDEN, y: yAxis },
    },
    plugins: [panelPlugin(cfg)],
  };
}

function stepPoints(vals: number[]) {
  const pts = [{ x: BIN_START, y: 0 }];
  vals.forEach((v, k) => pts.push({ x: BIN_START + k * BIN_WIDTH, y: v }));
  pts.push({ x: BIN_START + vals.length * BIN_WIDTH, y: vals[vals.length - 1] });
  return pts;
}

function histDataset(vals: number[], color: string) {
  return {
    data: stepPoints(vals),
    borderColor: color,
    borderWidth: 3,
    pointRadius: 0,
    stepped: true,
    yAxisID: 'y',
    borderJoinStyle: 'miter',
  };
}

function burstConfig() {
  const cfg: PanelCfg = {
    yMajor: P3_TICKS,
    yMinorStep: 1,
    yMin: P3_MIN,
    yMax: P3_MAX,
    mirrorY: false,
    blueWidth: 4.5,
    eventLabels: false,
    title: TITLE_P3,
    titleX: 62,
    titleY: 163,
    right: { parts: TITLE_R, x: 1161, y: 165 },
    colorBars: true,
  };
  const dots = [...DOTS_LOW, ...DOTS_LOW2, ...DOTS_HIGH].map(([x, y]) => ({ x, y }));
  return {
    type: 'line',
    data: {
      datasets: [
        histDataset(N_RED, C_RED),
        histDataset(N_YELLOW, C_YELLOW),
        histDataset(N_CYAN, C_CYAN),
        histDataset(N_PURPLE, C_PURPLE),
        {
          data: dots,
          showLine: false,
          pointRadius: 1.7,
          pointBackgroundColor: DOT_COLOR,
          pointBorderWidth: 0,
          yAxisID: 'y',
        },
      ],
    },
    options: {
      ...BASE_OPTS,
      layout: { padding: { left: 0, right: 0, top: 30, bottom: 7 } },
      scales: {
        x: {
          type: 'linear',
          position: 'bottom',
          min: X_MIN,
          max: X_MAX,
          afterBuildTicks: (s: any) => {
            s.ticks = MONTH_TICKS.map((v) => ({ value: v }));
          },
          afterFit: (s: any) => {
            s.height = 60;
          },
          grid: { display: false, drawTicks: false },
          border: { display: false },
          ticks: {
            color: BLACK,
            padding: 18,
            autoSkip: false,
            maxRotation: 0,
            minRotation: 0,
            font: { family: FONT, size: 28, lineHeight: 0.85 },
            callback: (_v: any, i: number) => MONTH_LABELS[i],
          },
        },
        y: yScale(P3_MIN, P3_MAX, P3_TICKS, (v) => String(v), 'left', 133, 8, 11, 8),
        yR: yScale(PR_MIN, PR_MAX, PR_TICKS, (v) => String(v), 'right', 85, 9, 0, 8),
      },
    },
    plugins: [panelPlugin(cfg)],
  };
}

function ChartCanvas({ top, height, make }: { top: number; height: number; make: () => any }) {
  const ref = useRef<HTMLCanvasElement>(null);
  useEffect(() => {
    const chart = new Chart(ref.current as HTMLCanvasElement, make());
    return () => chart.destroy();
  }, []);
  return (
    <canvas
      ref={ref}
      width={1188}
      height={height}
      style={{ position: 'absolute', left: 0, top, width: 1188, height }}
    />
  );
}

export default function App() {
  const p1 = () =>
    linePanelConfig(RD03, PEAK03_DAYS, PEAK03_VALS, yScale(P1_MIN, P1_MAX, P1_TICKS, (v) => v.toFixed(1)), {
      band: P1_BAND,
      yMajor: P1_TICKS,
      yMinorStep: 0.1,
      yMin: P1_MIN,
      yMax: P1_MAX,
      mirrorY: true,
      blueWidth: 3,
      eventLabels: true,
      title: TITLE_P1,
      titleX: 46.5,
      titleY: 159,
    }, { left: 0, right: 85, top: 24, bottom: 30 });
  const p2 = () =>
    linePanelConfig(RD07, PEAK07_DAYS, PEAK07_VALS, yScale(P2_MIN, P2_MAX, P2_TICKS, (v) => v.toFixed(2), 'left', 133, 8, 10.5, 0), {
      band: P2_BAND,
      yMajor: P2_TICKS,
      yMinorStep: 0.01,
      yMin: P2_MIN,
      yMax: P2_MAX,
      mirrorY: true,
      blueWidth: 3,
      eventLabels: false,
      title: TITLE_P2,
      titleX: 30,
      titleY: 165,
    }, { left: 0, right: 85, top: 30, bottom: 30 });
  return (
    <div style={{ position: 'fixed', left: 0, top: 0, width: 1188, height: 888, background: '#ffffff', overflow: 'hidden' }}>
      <ChartCanvas top={0} height={320} make={p1} />
      <ChartCanvas top={260} height={326} make={p2} />
      <ChartCanvas top={526} height={362} make={burstConfig} />
    </div>
  );
}
